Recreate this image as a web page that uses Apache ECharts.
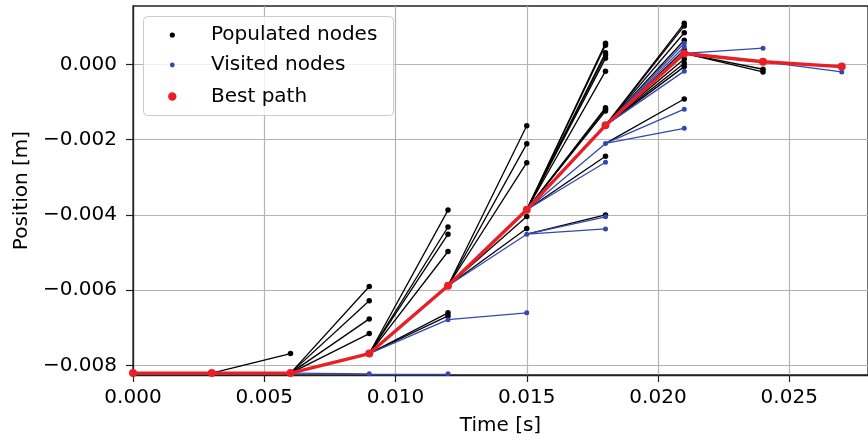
<!DOCTYPE html>
<html>
<head>
<meta charset="utf-8">
<script src="https://cdn.jsdelivr.net/npm/echarts@6/dist/echarts.min.js"></script>
<style>
  html, body { margin: 0; padding: 0; background: #ffffff; }
  #chart { width: 868px; height: 441px; }
</style>
</head>
<body>
<div id="chart"></div>
<script>
// ---- data ----
const xTicks = [0, 0.005, 0.010, 0.015, 0.020, 0.025];
const yTicks = [-0.008, -0.006, -0.004, -0.002, 0];
const legendLabels = ['Populated nodes', 'Visited nodes', 'Best path'];

// best path: time [s] and position [m]
const bestTimes = [0, 0.003, 0.006, 0.009, 0.012, 0.015, 0.018, 0.021, 0.024, 0.027];
const bestPositions = [-0.0082, -0.0082, -0.0082, -0.00768, -0.00588, -0.00386, -0.00162, 0.00029, 0.00007, -0.00006];

// populated (non-visited) children: [parent time, parent pos, child time, child pos]
const populatedEdges = [
  [0.003, -0.0082, 0.006, -0.00768],
  [0.006, -0.0082, 0.009, -0.00590],
  [0.006, -0.0082, 0.009, -0.00628],
  [0.006, -0.0082, 0.009, -0.00676],
  [0.006, -0.0082, 0.009, -0.00715],
  [0.009, -0.00768, 0.012, -0.00387],
  [0.009, -0.00768, 0.012, -0.00432],
  [0.009, -0.00768, 0.012, -0.00451],
  [0.009, -0.00768, 0.012, -0.00497],
  [0.009, -0.00768, 0.012, -0.00660],
  [0.009, -0.00768, 0.012, -0.00668],
  [0.012, -0.00588, 0.015, -0.00163],
  [0.012, -0.00588, 0.015, -0.00211],
  [0.012, -0.00588, 0.015, -0.00261],
  [0.012, -0.00588, 0.015, -0.00404],
  [0.012, -0.00588, 0.015, -0.00436],
  [0.015, -0.00386, 0.018, 0.00056],
  [0.015, -0.00386, 0.018, 0.00051],
  [0.015, -0.00386, 0.018, 0.00031],
  [0.015, -0.00386, 0.018, 0.00025],
  [0.015, -0.00386, 0.018, 0.00016],
  [0.015, -0.00386, 0.018, -0.00018],
  [0.015, -0.00386, 0.018, -0.00115],
  [0.015, -0.00386, 0.018, -0.00119],
  [0.015, -0.00386, 0.018, -0.00124],
  [0.015, -0.00386, 0.018, -0.00244],
  [0.015, -0.00451, 0.018, -0.00400],
  [0.018, -0.00162, 0.021, 0.00109],
  [0.018, -0.00162, 0.021, 0.00102],
  [0.018, -0.00162, 0.021, 0.00084],
  [0.018, -0.00162, 0.021, 0.00064],
  [0.018, -0.00162, 0.021, 0.00038],
  [0.018, -0.00162, 0.021, 0.00014],
  [0.018, -0.00162, 0.021, 0.00003],
  [0.018, -0.00162, 0.021, -0.00006],
  [0.018, -0.00210, 0.021, -0.00092],
  [0.021, 0.00029, 0.024, -0.00013],
  [0.021, 0.00029, 0.024, -0.00020]
];

// visited children: [parent time, parent pos, child time, child pos]
const visitedEdges = [
  [0.006, -0.0082, 0.009, -0.00822],
  [0.009, -0.00822, 0.012, -0.00822],
  [0.009, -0.00768, 0.012, -0.00678],
  [0.012, -0.00678, 0.015, -0.00660],
  [0.012, -0.00588, 0.015, -0.00451],
  [0.015, -0.00386, 0.018, -0.00210],
  [0.015, -0.00386, 0.018, -0.00260],
  [0.015, -0.00451, 0.018, -0.00405],
  [0.015, -0.00451, 0.018, -0.00437],
  [0.018, -0.00162, 0.021, 0.00056],
  [0.018, -0.00162, 0.021, 0.00047],
  [0.018, -0.00162, 0.021, -0.00018],
  [0.018, -0.00210, 0.021, -0.00119],
  [0.018, -0.00210, 0.021, -0.00170],
  [0.021, 0.00029, 0.024, 0.00043],
  [0.024, 0.00007, 0.027, -0.00020]
];

// ---- chart ----
const BLACK = '#000000';
const BLUE = '#3347b0';
const RED = '#ea1f26';
const FONT = 'DejaVu Sans';
const FS = 20;

const edgeLines = edges => edges.map(e => ({ coords: [[e[0], e[1]], [e[2], e[3]]] }));
const childPoints = edges => edges.map(e => [e[2], e[3]]);
const bestData = bestTimes.map((t, i) => [t, bestPositions[i]]);

const fmt = v => {
  if (Math.abs(v) < 1e-12) return '0.000';
  return (v < 0 ? '\u2212' : '') + Math.abs(v).toFixed(3);
};

// legend drawn as graphic (box, markers, labels)
const legendColors = [BLACK, BLUE, RED];
const legendRadius = [2.6, 2.4, 4.2];
const legendRowY = [35, 65, 96.5];
const legendElements = [{
  type: 'rect', left: 143, top: 16, z: 50,
  shape: { width: 250, height: 99, r: 4 },
  style: { fill: 'rgba(255,255,255,0.8)', stroke: '#cccccc', lineWidth: 1 }
}];
legendLabels.forEach((name, i) => {
  legendElements.push({
    type: 'circle', z: 51,
    shape: { cx: 172.3, cy: legendRowY[i], r: legendRadius[i] },
    style: { fill: legendColors[i] }
  });
  legendElements.push({
    type: 'text', z: 51, x: 211, y: legendRowY[i],
    style: { text: name, fill: '#000', font: FS + 'px "DejaVu Sans"', verticalAlign: 'middle', textVerticalAlign: 'middle' }
  });
});

const chart = echarts.init(document.getElementById('chart'), null, { renderer: 'canvas' });
chart.setOption({
  animation: false,
  backgroundColor: '#ffffff',
  textStyle: { fontFamily: FONT },
  grid: {
    left: 133, right: -12, top: 6, bottom: 65,
    show: true, borderColor: '#222222', borderWidth: 1.3, backgroundColor: 'transparent'
  },
  graphic: { elements: legendElements },
  xAxis: {
    type: 'value', min: 0, max: 0.028,
    name: 'Time [s]', nameLocation: 'middle', nameGap: 41,
    nameTextStyle: { fontFamily: FONT, fontSize: FS, color: '#000' },
    axisLine: { show: true, onZero: false, lineStyle: { color: '#222222', width: 1.3 } },
    axisTick: { show: true, length: 7, lineStyle: { color: '#222222', width: 1.2 }, customValues: xTicks },
    axisLabel: { customValues: xTicks, formatter: fmt, margin: 13, fontFamily: FONT, fontSize: FS, color: '#000' },
    splitLine: { show: true, lineStyle: { color: '#b4b4b4', width: 1.2 } }
  },
  yAxis: {
    type: 'value', min: -0.00825, max: 0.00155,
    name: 'Position [m]', nameLocation: 'middle', nameGap: 100, nameRotate: 90,
    nameTextStyle: { fontFamily: FONT, fontSize: FS, color: '#000' },
    axisLine: { show: true, onZero: false, lineStyle: { color: '#222222', width: 1.3 } },
    axisTick: { show: true, length: 7, lineStyle: { color: '#222222', width: 1.2 }, customValues: yTicks },
    axisLabel: { customValues: yTicks, formatter: fmt, margin: 16, fontFamily: FONT, fontSize: FS, color: '#000' },
    splitLine: { show: true, lineStyle: { color: '#b4b4b4', width: 1.2 } }
  },
  series: [
    {
      name: 'populated edges', type: 'lines', coordinateSystem: 'cartesian2d', z: 2,
      data: edgeLines(populatedEdges), silent: true,
      lineStyle: { color: BLACK, width: 1.3, opacity: 1 }
    },
    {
      name: legendLabels[0], type: 'scatter', z: 3,
      data: childPoints(populatedEdges), symbol: 'circle', symbolSize: 5.5,
      itemStyle: { color: BLACK, opacity: 1 }
    },
    {
      name: 'visited edges', type: 'lines', coordinateSystem: 'cartesian2d', z: 4,
      data: edgeLines(visitedEdges), silent: true,
      lineStyle: { color: BLUE, width: 1.3, opacity: 1 }
    },
    {
      name: legendLabels[1], type: 'scatter', z: 5,
      data: childPoints(visitedEdges), symbol: 'circle', symbolSize: 5,
      itemStyle: { color: BLUE, opacity: 1 }
    },
    {
      name: legendLabels[2], type: 'line', z: 6,
      data: bestData, symbol: 'circle', symbolSize: 8, showSymbol: true,
      lineStyle: { color: RED, width: 3.4 },
      itemStyle: { color: RED, borderWidth: 0, opacity: 1 }
    }
  ]
});
</script>
</body>
</html>
